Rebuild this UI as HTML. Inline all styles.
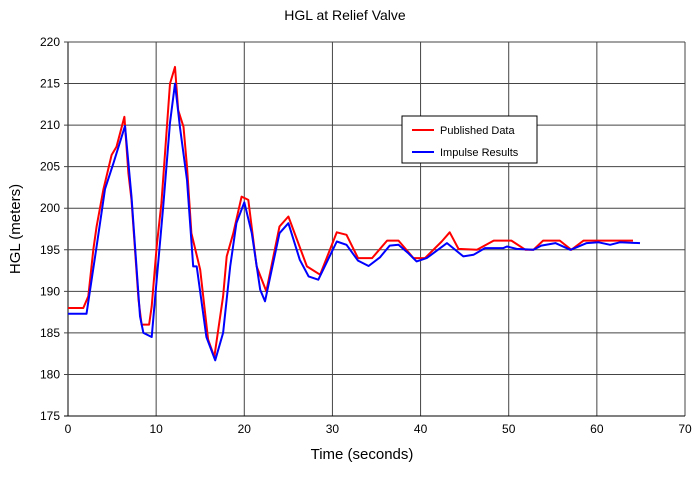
<!DOCTYPE html>
<html><head><meta charset="utf-8"><style>
body{margin:0;background:#fff;font-family:"Liberation Sans",Arial,sans-serif}
svg text{font-family:"Liberation Sans",Arial,sans-serif;fill:#000}
</style></head><body>
<svg id="chart" width="700" height="474" xmlns="http://www.w3.org/2000/svg">
<text x="345" y="20" font-size="14" text-anchor="middle">HGL at Relief Valve</text>
<g id="grid"></g>
<g id="series"></g>
<text x="362" y="459" font-size="15" text-anchor="middle">Time (seconds)</text>
<text x="20" y="229" font-size="15" text-anchor="middle" transform="rotate(-90 20 229)">HGL (meters)</text>
<g>
<rect x="402" y="116" width="135" height="47" fill="#fff" stroke="#000" stroke-width="1"/>
<line x1="412" y1="130" x2="434" y2="130" stroke="#f00" stroke-width="2"/>
<text x="440" y="134" font-size="11">Published Data</text>
<line x1="412" y1="152" x2="434" y2="152" stroke="#00f" stroke-width="2"/>
<text x="440" y="156" font-size="11">Impulse Results</text>
</g>
</svg>
<script>
const xTicks=[0,10,20,30,40,50,60,70];
const yTicks=[175,180,185,190,195,200,205,210,215,220];
const pubT=[0,1.74,2.3,2.87,3.25,4.0,4.95,5.5,6.4,6.85,7.2,8.0,8.35,9.2,9.5,10.06,10.6,11,11.57,12.14,12.5,13.1,13.5,14.0,15.0,15.9,16.6,17.6,18.0,18.75,19.7,20.45,21.4,22.5,24,25,27.1,28.6,30.5,31.6,32.9,34.5,36.2,37.5,39.2,40.5,42.4,43.3,44.3,46.4,48.3,50.3,51.9,52.8,53.9,55.8,57.1,58.5,64.1];
const pubV=[188,188,189.4,195,197.8,202.2,206.4,207.4,211,204.2,201,189,186,186,188.2,195.4,200.6,206.6,215,217,211.8,209.8,205,197,192.6,184.2,182.1,189.4,194.2,197,201.4,201,193,190,197.8,199,193,192,197.1,196.8,194,194,196.1,196.1,194,194,196,197.1,195.1,195,196.1,196.1,195,195,196.1,196.1,195,196.1,196.1];
const impT=[0,2.1,3.25,4.2,5.15,6.47,7.2,8.17,8.55,9.5,10.06,10.8,11.57,12.14,12.7,13.5,14.2,14.6,15.7,16.7,17.6,18.4,19.1,20.0,20.85,21.8,22.35,24,25,26.3,27.3,28.4,30.5,31.6,32.9,34.1,35.4,36.5,37.5,38.6,39.55,40.7,43.0,44.85,46.0,47.3,49.4,49.8,50.9,52.8,53.7,55.3,57,57.5,58.85,60.2,61.5,62.6,64.9];
const impV=[187.3,187.3,195.4,202.3,205.4,209.9,201.4,187,185,184.5,191.4,200.2,210.3,215,209.8,203.4,193,193,184.5,181.7,185,193,198.2,200.7,197,190.2,188.8,197,198.2,193.8,191.8,191.4,196,195.6,193.7,193.05,194.1,195.5,195.6,194.6,193.6,194,195.8,194.2,194.4,195.2,195.2,195.4,195.1,195,195.5,195.8,195,195.2,195.8,195.9,195.6,195.9,195.8];
const X0=68,X1=685,Y0=416,Y1=42;
function sx(t){return X0+(t-0)/(70-0)*(X1-X0);}
function sy(v){return Y0-(v-175)/(220-175)*(Y0-Y1);}
const NS="http://www.w3.org/2000/svg";
const grid=document.getElementById('grid'),ser=document.getElementById('series');
function mk(tag,attrs,parent){const e=document.createElementNS(NS,tag);for(const k in attrs)e.setAttribute(k,attrs[k]);parent.appendChild(e);return e;}
xTicks.forEach(t=>{
 const l=mk('line',{x1:sx(t),x2:sx(t),y1:Y1,y2:Y0,stroke:t===0?'#000':'#444','stroke-width':1},grid);
 
 
 const tx=mk('text',{x:sx(t),y:Y0+17,'font-size':12,'text-anchor':'middle'},grid);
 tx.textContent=t;
 
 
});
yTicks.forEach(v=>{
 const l=mk('line',{x1:X0-4,x2:X1,y1:sy(v),y2:sy(v),stroke:v===175?'#000':'#444','stroke-width':1},grid);
 
 
 const tx=mk('text',{x:X0-8,y:sy(v)+4,'font-size':12,'text-anchor':'end'},grid);
 tx.textContent=v;
 
 
});
function path(T,V,color,name){
 const d=T.map((t,i)=>(i?'L':'M')+sx(t).toFixed(1)+' '+sy(V[i]).toFixed(1)).join(' ');
 const p=mk('path',{d:d,fill:'none',stroke:color,'stroke-width':2,'stroke-linejoin':'round'},ser);
 
 
}
path(pubT,pubV,'#f00','published-data-line');
path(impT,impV,'#00f','impulse-results-line');
</script>
</body></html>
